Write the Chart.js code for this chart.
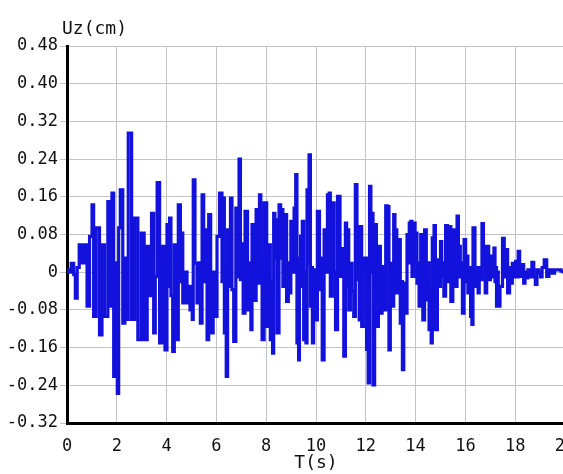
<!DOCTYPE html>
<html>
<head>
<meta charset="utf-8">
<script src="https://cdn.jsdelivr.net/npm/chart.js"></script>
<style>
  html, body { margin: 0; padding: 0; background: #fff; overflow: hidden; }
  #chart-area { display: block; }
</style>
</head>
<body>
<canvas id="chart-area" width="568" height="474"></canvas>
<script>
// time (s) and vertical displacement Uz (cm)
var timeS = [
  0.00, 0.10, 0.24, 0.30, 0.37, 0.45, 0.53, 0.65, 0.77, 0.84, 0.97, 1.04, 1.10, 1.24, 1.37, 1.44,
  1.57, 1.71, 1.77, 1.84, 1.91, 2.00, 2.04, 2.11, 2.17, 2.31, 2.34, 2.38, 2.54, 2.65, 2.78, 2.91,
  3.05, 3.15, 3.29, 3.34, 3.45, 3.51, 3.58, 3.66, 3.78, 3.89, 3.98, 4.05, 4.10, 4.14, 4.21, 4.28,
  4.34, 4.42, 4.52, 4.59, 4.61, 4.69, 4.79, 4.85, 4.92, 4.96, 5.01, 5.05, 5.09, 5.19, 5.25, 5.32,
  5.39, 5.46, 5.52, 5.59, 5.66, 5.72, 5.82, 5.92, 5.99, 6.06, 6.19, 6.26, 6.29, 6.35, 6.38, 6.41,
  6.49, 6.54, 6.59, 6.66, 6.73, 6.83, 6.89, 6.93, 7.00, 7.05, 7.10, 7.20, 7.30, 7.37, 7.40, 7.46,
  7.57, 7.62, 7.70, 7.76, 7.81, 7.86, 7.97, 8.07, 8.13, 8.20, 8.24, 8.27, 8.33, 8.37, 8.40, 8.47,
  8.56, 8.60, 8.64, 8.70, 8.77, 8.87, 8.91, 8.94, 9.04, 9.10, 9.14, 9.17, 9.20, 9.27, 9.29, 9.31,
  9.36, 9.40, 9.43, 9.47, 9.54, 9.58, 9.61, 9.67, 9.70, 9.74, 9.81, 9.84, 9.87, 9.94, 10.01, 10.10,
  10.18, 10.23, 10.27, 10.38, 10.44, 10.48, 10.52, 10.54, 10.61, 10.70, 10.76, 10.81, 10.92, 11.01, 11.08, 11.15,
  11.21, 11.25, 11.28, 11.35, 11.41, 11.48, 11.55, 11.61, 11.68, 11.72, 11.75, 11.79, 11.88, 11.92, 12.00, 12.06,
  12.08, 12.11, 12.19, 12.22, 12.26, 12.32, 12.39, 12.46, 12.55, 12.62, 12.69, 12.75, 12.85, 12.89, 12.91, 12.95,
  13.02, 13.09, 13.15, 13.19, 13.22, 13.27, 13.35, 13.42, 13.45, 13.49, 13.56, 13.62, 13.69, 13.73, 13.76, 13.79,
  13.82, 13.89, 13.96, 14.00, 14.02, 14.09, 14.12, 14.16, 14.25, 14.33, 14.39, 14.47, 14.52, 14.56, 14.60, 14.65,
  14.69, 14.72, 14.76, 14.83, 14.92, 14.97, 15.03, 15.07, 15.11, 15.16, 15.25, 15.31, 15.36, 15.47, 15.52, 15.63,
  15.70, 15.74, 15.76, 15.83, 15.86, 15.90, 15.99, 16.03, 16.06, 16.14, 16.19, 16.23, 16.25, 16.27, 16.34, 16.43,
  16.49, 16.53, 16.58, 16.63, 16.70, 16.75, 16.78, 16.81, 16.90, 16.97, 17.04, 17.08, 17.12, 17.17, 17.21, 17.24,
  17.26, 17.30, 17.34, 17.44, 17.54, 17.58, 17.64, 17.75, 17.80, 17.84, 17.93, 17.99, 18.04, 18.09, 18.15, 18.21,
  18.31, 18.37, 18.42, 18.47, 18.55, 18.63, 18.71, 18.78, 18.84, 18.91, 18.98, 19.05, 19.11, 19.22, 19.31, 19.40,
  19.51, 19.65, 19.78, 19.90, 20.00
];
var uzCm = [
  0.005, 0.000, 0.019, -0.005, -0.055, 0.010, 0.058, 0.020, 0.058, -0.072, 0.076, 0.143, -0.094, 0.094, -0.133, 0.058,
  -0.094, 0.150, -0.072, 0.168, -0.221, 0.020, -0.257, 0.094, 0.175, -0.108, 0.030, -0.100, 0.295, -0.100, 0.115, -0.143,
  0.083, -0.143, 0.055, -0.050, 0.125, -0.129, -0.009, 0.190, -0.150, 0.055, -0.165, 0.101, -0.030, 0.115, -0.050, -0.168,
  0.058, -0.143, 0.143, -0.020, 0.083, -0.065, 0.000, -0.065, -0.030, -0.080, -0.030, -0.100, 0.196, 0.019, -0.065, 0.020,
  -0.108, 0.164, -0.020, 0.090, -0.143, 0.122, -0.129, 0.000, -0.094, 0.076, 0.168, -0.020, 0.157, -0.129, 0.020, -0.221,
  0.090, -0.030, 0.157, -0.037, -0.147, 0.136, -0.010, 0.240, -0.016, 0.060, -0.087, 0.129, -0.080, 0.020, -0.122, 0.101,
  -0.060, 0.133, -0.023, 0.164, 0.020, -0.143, 0.147, -0.115, 0.058, -0.143, -0.020, -0.172, 0.125, 0.030, 0.111, -0.129,
  0.143, 0.030, 0.133, -0.030, 0.122, -0.062, 0.020, -0.044, 0.108, 0.000, 0.136, 0.040, 0.207, -0.150, -0.040, -0.186,
  0.030, 0.076, -0.030, 0.108, -0.143, 0.000, -0.150, 0.175, 0.020, 0.249, -0.072, 0.010, -0.150, 0.005, -0.101, 0.129,
  -0.037, 0.030, -0.186, 0.090, 0.000, 0.164, 0.050, 0.168, -0.051, 0.147, 0.000, -0.122, 0.161, -0.009, 0.050, -0.178,
  0.104, -0.030, 0.090, -0.080, 0.019, -0.040, -0.094, 0.186, -0.016, 0.060, -0.101, 0.097, -0.115, 0.000, 0.030, -0.164,
  0.000, -0.235, 0.182, 0.000, 0.125, -0.239, 0.101, -0.115, 0.055, -0.087, 0.012, -0.080, 0.141, 0.030, 0.139, -0.165,
  0.019, -0.072, 0.122, 0.020, 0.090, -0.044, 0.069, -0.108, -0.020, -0.207, -0.023, -0.087, 0.080, 0.020, 0.104, 0.030,
  0.108, -0.009, 0.104, 0.030, 0.083, -0.023, 0.020, -0.072, 0.080, -0.101, 0.090, -0.059, 0.020, -0.122, -0.030, -0.150,
  0.073, 0.020, 0.099, -0.122, 0.026, -0.030, 0.065, -0.009, 0.020, -0.051, 0.099, -0.020, 0.097, -0.062, 0.090, -0.030,
  0.119, -0.010, 0.055, -0.009, 0.020, -0.087, 0.069, -0.020, 0.034, -0.044, 0.010, -0.094, -0.030, -0.111, 0.094, -0.030,
  0.010, -0.044, 0.010, -0.016, 0.103, 0.020, 0.050, -0.044, 0.055, -0.016, 0.020, 0.034, -0.010, 0.051, -0.020, 0.010,
  -0.072, 0.000, -0.072, -0.030, 0.072, -0.010, 0.048, -0.044, 0.010, -0.023, 0.019, -0.010, 0.023, -0.010, 0.044, -0.009,
  0.016, -0.023, 0.000, -0.012, 0.005, -0.010, 0.021, -0.010, -0.026, 0.005, -0.002, -0.010, 0.010, 0.026, -0.009, 0.005,
  -0.002, 0.005, 0.005, 0.002, 0.000
];
var xTickLabels = ['0', '2', '4', '6', '8', '10', '12', '14', '16', '18', '20'];
var yTickLabels = ['-0.32', '-0.24', '-0.16', '-0.08', '0', '0.08', '0.16', '0.24', '0.32', '0.40', '0.48'];

var points = timeS.map(function(t, i) { return { x: t, y: uzCm[i] }; });
var tickFont = { family: '"DejaVu Sans Mono", monospace', size: 17 };

// "Uz(cm)" sits above the axis, not along it
var unitLabel = {
  id: 'unitLabel',
  afterDraw: function(chart) {
    var c = chart.ctx;
    c.save();
    c.font = '18px "DejaVu Sans Mono", monospace';
    c.fillStyle = '#111';
    c.textAlign = 'left';
    c.textBaseline = 'alphabetic';
    c.fillText('Uz(cm)', 62, 34);
    c.restore();
  }
};

var ctx = document.getElementById('chart-area').getContext('2d');
var myChart = new Chart(ctx, {
  type: 'line',
  data: {
    datasets: [{
      data: points,
      borderColor: '#1212dc',
      borderWidth: 3.2,
      pointRadius: 0,
      stepped: 'middle',
      fill: false
    }]
  },
  options: {
    responsive: false,
    animation: false,
    layout: { autoPadding: false, padding: { top: 46, right: 3, left: 0, bottom: 0 } },
    plugins: { legend: { display: false }, tooltip: { enabled: false } },
    scales: {
      x: {
        type: 'linear',
        min: 0,
        max: 20,
        afterFit: function(s) { s.height = 51; s.paddingLeft = 0; s.paddingRight = 0; },
        grid: { color: '#c4c4c4', lineWidth: 1, drawTicks: false },
        border: { color: '#000', width: 3 },
        ticks: {
          stepSize: 2,
          padding: 13,
          color: '#111',
          font: tickFont,
          maxRotation: 0,
          callback: function(v, i) { return xTickLabels[i]; }
        },
        title: {
          display: true,
          text: 'T(s)',
          color: '#111',
          font: { family: '"DejaVu Sans Mono", monospace', size: 18 },
          padding: { top: 0, bottom: 0 }
        }
      },
      y: {
        min: -0.32,
        max: 0.48,
        afterFit: function(s) { s.width = 67; s.paddingTop = 0; s.paddingBottom = 0; },
        grid: { color: '#c4c4c4', lineWidth: 1, tickLength: 7 },
        border: { color: '#000', width: 3 },
        ticks: {
          stepSize: 0.08,
          padding: 2,
          color: '#111',
          font: tickFont,
          callback: function(v, i) { return yTickLabels[i]; }
        }
      }
    }
  },
  plugins: [unitLabel]
});
</script>
</body>
</html>
